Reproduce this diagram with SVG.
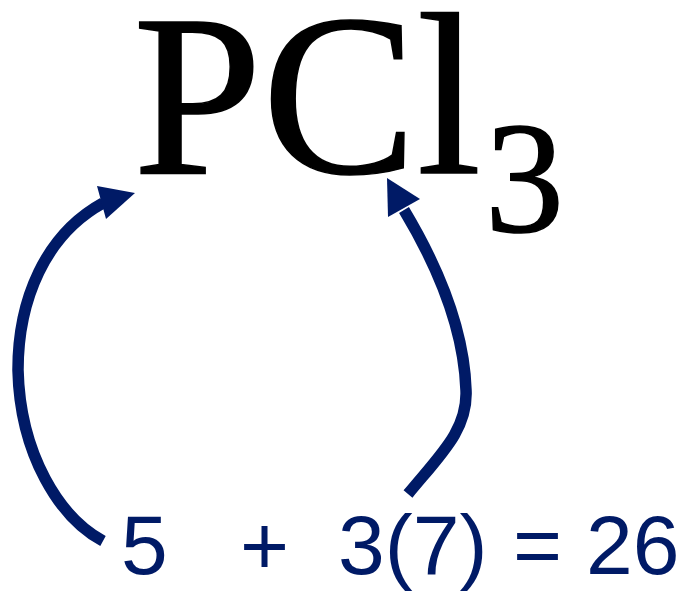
<svg xmlns="http://www.w3.org/2000/svg" width="684" height="591" viewBox="0 0 684 591">
<style>
.formula{font-family:"Liberation Serif","Times New Roman",serif;fill:#000;stroke:#000;stroke-width:1.5}
.calc{font-family:"Liberation Sans",Arial,sans-serif;font-size:84px;fill:#001a66}
.arc{fill:none;stroke:#001a66;stroke-width:11.5;stroke-linecap:butt}
.head{fill:#001a66}
</style>
<rect width="684" height="591" fill="#fff"/>
<g id="formula">
<text class="formula" x="133" y="173" font-size="232">PCl<tspan x="485" y="231" font-size="158">3</tspan></text>
</g>
<g id="calculation">
<text class="calc" y="574"><tspan x="121">5</tspan><tspan x="240">+</tspan><tspan x="338">3(7)</tspan><tspan x="513">=</tspan><tspan x="586">26</tspan></text>
</g>
<g id="connectors">
<path class="arc" d="M103,541 C60,518 20,455 18,370 C18,300 45,235 103,203"/>
<polygon class="head" points="135,193 97,186 106,219"/>
<path class="arc" d="M408,494 C440,455 468,430 466,390 C464,330 440,270 404,210"/>
<polygon class="head" points="387,178 388,217 420,199"/>
</g>
</svg>
